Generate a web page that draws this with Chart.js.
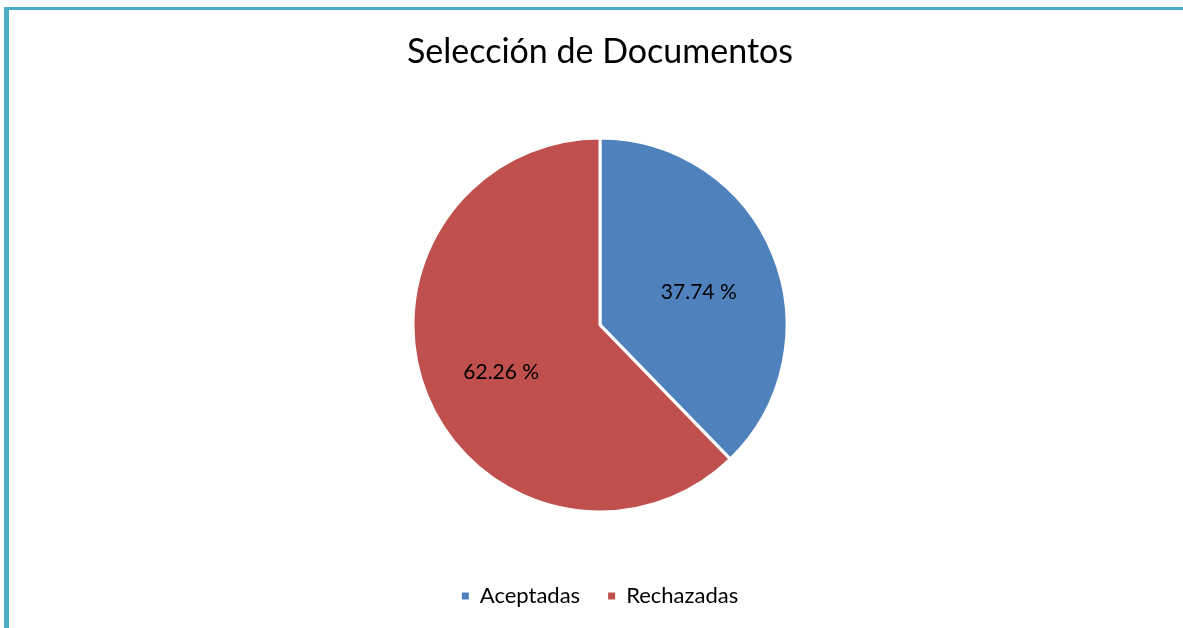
<!DOCTYPE html>
<html>
<head>
<meta charset="utf-8">
<script src="https://cdn.jsdelivr.net/npm/chart.js@4"></script>
<style>
  html, body { margin: 0; padding: 0; background: #fff; }
  #wrap { position: relative; width: 1183px; height: 628px; }
  #marco {
    position: absolute; left: 4px; top: 7px; right: 0; bottom: 0;
    border-left: 5px solid #4bacc6; border-top: 3px solid #4bacc6;
    pointer-events: none;
  }
</style>
</head>
<body>
<div id="wrap">
  <canvas id="grafico" width="1183" height="628"></canvas>
  <div id="marco"></div>
</div>
<script>
const categorias = ['Aceptadas', 'Rechazadas'];
const porcentajes = [37.74, 62.26];
const colores = ['#4f81bd', '#c0504d'];
const fuente = 'Lato, "Open Sans", sans-serif';

// etiquetas dentro de cada porción
const etiquetasPie = {
  id: 'etiquetasPie',
  afterDatasetsDraw(chart) {
    const ctx = chart.ctx;
    const meta = chart.getDatasetMeta(0);
    ctx.save();
    ctx.font = '21px ' + fuente;
    ctx.fillStyle = '#000';
    ctx.textAlign = 'center';
    ctx.textBaseline = 'middle';
    meta.data.forEach((arc, i) => {
      const p = arc.getProps(['x', 'y', 'startAngle', 'endAngle', 'outerRadius']);
      const a = (p.startAngle + p.endAngle) / 2;
      const r = p.outerRadius * 0.57;
      const txt = porcentajes[i].toFixed(2) + ' %';
      ctx.fillText(txt, p.x + Math.cos(a) * r, p.y + Math.sin(a) * r + 7);
    });
    ctx.restore();
  }
};

new Chart(document.getElementById('grafico'), {
  type: 'pie',
  data: {
    labels: categorias,
    datasets: [{
      data: porcentajes,
      backgroundColor: colores,
      borderColor: '#fff',
      borderWidth: 3,
      radius: 187
    }]
  },
  options: {
    responsive: false,
    animation: false,
    layout: { padding: { top: 0, bottom: 11, left: 17 } },
    plugins: {
      title: {
        display: true,
        text: 'Selección de Documentos',
        color: '#000',
        font: { family: fuente, size: 34, weight: 'normal' },
        padding: { top: 32, bottom: 20 }
      },
      legend: {
        position: 'bottom',
        labels: {
          color: '#000',
          font: { family: fuente, size: 22 },
          boxWidth: 7,
          boxHeight: 7,
          padding: 28,
          generateLabels: () => categorias.map((c, i) => ({
            text: c,
            fillStyle: colores[i],
            strokeStyle: colores[i],
            lineWidth: 0,
            fontColor: '#000',
            hidden: false,
            index: i
          }))
        }
      },
      tooltip: { enabled: false }
    }
  },
  plugins: [etiquetasPie]
});
</script>
</body>
</html>
